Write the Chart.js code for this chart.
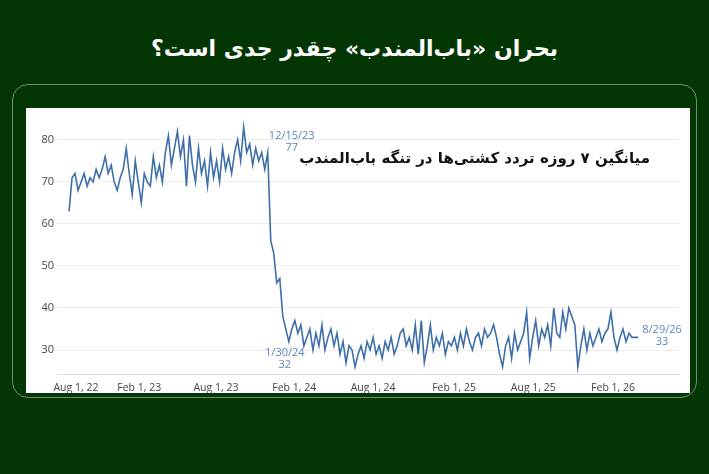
<!DOCTYPE html>
<html><head><meta charset="utf-8">
<script src="https://cdn.jsdelivr.net/npm/chart.js@4"></script>
<style>
  html, body { margin: 0; padding: 0; }
  body { width: 709px; height: 474px; background: #043604; position: relative; overflow: hidden; font-family: "DejaVu Sans", sans-serif; }
  #title { position: absolute; top: 36px; left: 0; width: 709px; text-align: center; color: #fff; font-weight: bold; font-size: 22px; direction: rtl; }
  #frame { position: absolute; left: 12px; top: 84px; width: 683px; height: 312px; border: 1.5px solid #6d8f6d; border-radius: 16px; }
  #card { position: absolute; left: 26px; top: 108px; width: 664px; height: 285px; background: #fff; }
  #sub { position: absolute; right: 40px; top: 41px; font-weight: bold; font-size: 15px; color: #111; direction: rtl; }
</style></head>
<body>
<div id="title">بحران «باب‌المندب» چقدر جدی است؟</div>
<div id="frame"></div>
<div id="card"><canvas id="c" width="664" height="285"></canvas><div id="sub">میانگین ۷ روزه تردد کشتی‌ها در تنگه باب‌المندب</div></div>
<script>
// weekly 7-day average of ship transits, starting mid-July 2022
var TRANSITS = [
  63,71,72,68,70,72,69,71,70,73,
  71,73,76,72,74,70,68,71,73,78,
  72,67,75,70,65,72,70,69,76,71,
  74,70,77,81,74,78,82,76,80,69,
  81,74,70,78,72,75,69,77,71,75,
  70,78,73,76,72,77,80,75,83,77,
  79,74,78,75,77,73,77,56,53,46,
  47,38,35,32,35,37,34,36,31,33,
  35,30,34,31,36,30,33,35,31,34,
  29,32,27,31,30,26,29,31,28,32,
  30,33,29,31,28,32,30,33,29,31,
  34,35,31,33,30,36,29,37,27,31,
  36,30,33,31,34,29,32,31,33,30,
  34,31,35,32,30,33,34,31,35,33,
  34,36,33,29,26,31,33,28,34,30,
  32,34,39,28,33,37,31,35,33,36,
  31,40,34,33,39,35,40,38,36,26,
  31,35,30,34,31,33,35,32,34,35,
  39,33,30,33,35,32,34,33,33,33
];
var TICK_WEEKS = [2.3, 23.3, 48.8, 74.8, 101, 127.9, 154.2, 180.7];
var TICK_LABELS = ["Aug 1, 22", "Feb 1, 23", "Aug 1, 23", "Feb 1, 24", "Aug 1, 24", "Feb 1, 25", "Aug 1, 25", "Feb 1, 26"];
var Y_TICKS = [30, 40, 50, 60, 70, 80];
// callouts: week index, date text, side
var CALLOUTS = [
  { week: 66, date: "12/15/23", pos: "right" },
  { week: 73, date: "1/30/24", pos: "below" },
  { week: 189, date: "8/29/26", pos: "end" }
];

var pts = TRANSITS.map(function (v, i) { return { x: i, y: v }; });

var callouts = {
  id: "callouts",
  afterDatasetsDraw: function (chart) {
    var ctx = chart.ctx, xs = chart.scales.x, ys = chart.scales.y;
    ctx.save();
    ctx.fillStyle = "#5b86c0";
    ctx.font = "11px 'Open Sans'";
    ctx.textAlign = "center";
    CALLOUTS.forEach(function (c) {
      var v = TRANSITS[c.week];
      var px = xs.getPixelForValue(c.week), py = ys.getPixelForValue(v);
      var cx, cy;
      if (c.pos === "right") { cx = px + 24; cy = py - 13; }
      else if (c.pos === "below") { cx = px - 4; cy = py + 14; }
      else { cx = px + 24; cy = py - 4; }
      ctx.fillText(c.date, cx, cy);
      ctx.fillText(String(v), cx, cy + 12);
    });
    ctx.restore();
  }
};

new Chart(document.getElementById("c"), {
  type: "line",
  data: { datasets: [{ data: pts, borderColor: "#3e6fa9", borderWidth: 1.6, pointRadius: 0, tension: 0, fill: false }] },
  options: {
    responsive: false, animation: false, parsing: false,
    layout: { padding: { top: -5, right: 11, left: 0, bottom: 0 } },
    plugins: { legend: { display: false }, tooltip: { enabled: false } },
    scales: {
      x: {
        type: "linear", min: -4, max: 202.6,
        afterBuildTicks: function (s) { s.ticks = TICK_WEEKS.map(function (v) { return { value: v }; }); },
        afterFit: function (s) { s.height -= 4; },
        ticks: { autoSkip: false, maxRotation: 0, color: "#444", font: { family: "Open Sans", size: 10.5 },
                 callback: function (v, i) { return TICK_LABELS[i]; } },
        grid: { display: false, drawTicks: true, tickLength: 4 },
        border: { color: "#ddd" }
      },
      y: {
        min: 24.2, max: 85.3,
        afterBuildTicks: function (s) { s.ticks = Y_TICKS.map(function (v) { return { value: v }; }); },
        afterFit: function (s) { s.width = 31; },
        ticks: { color: "#444", font: { family: "Open Sans", size: 11 } },
        grid: { color: "#ececec", drawTicks: false },
        border: { display: false }
      }
    }
  },
  plugins: [callouts]
});
</script>
</body></html>
